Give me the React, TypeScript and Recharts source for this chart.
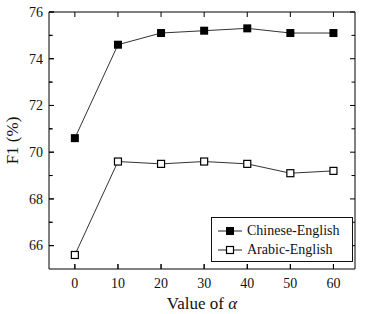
import React from 'react';
import { LineChart, Line, XAxis, YAxis, ReferenceArea, ReferenceLine } from 'recharts';

const alphas = [0, 10, 20, 30, 40, 50, 60];
const chineseEnglish = [70.6, 74.6, 75.1, 75.2, 75.3, 75.1, 75.1];
const arabicEnglish = [65.6, 69.6, 69.5, 69.6, 69.5, 69.1, 69.2];
const xTicks = [0, 10, 20, 30, 40, 50, 60];
const yTicks = [66, 67, 68, 69, 70, 71, 72, 73, 74, 75, 76];
const yLabels = [66, 68, 70, 72, 74, 76];
const seriesNames = ['Chinese-English', 'Arabic-English'];
const xDomain = [-6, 65];
const yDomain = [65, 76];

const data = alphas.map((a, i) => ({ alpha: a, ce: chineseEnglish[i], ae: arabicEnglish[i] }));

const FONT = "'Liberation Serif', 'Times New Roman', Times, serif";
const INK = '#000';

const W = 367;
const H = 314;
const M = { top: 12, right: 12, bottom: 0, left: 0 };
const Y_AXIS_W = 49;
const X_AXIS_H = 45;
const plotW = W - M.left - M.right - Y_AXIS_W;
const plotH = H - M.top - M.bottom - X_AXIS_H;
const MAJOR = 5;
const MINOR = 3.5;
const TICK_W = 1;
// tick lengths in data units (so the library scales draw them)
const xLen = (px: number) => (px * (xDomain[1] - xDomain[0])) / plotW;
const yLen = (px: number) => (px * (yDomain[1] - yDomain[0])) / plotH;
const isMajorY = (v: number) => yLabels.includes(v);

const LeftTick = (props: any) => {
  const { x, y, payload } = props;
  const v = payload.value;
  return (
    <g>
      <path d={`M${x},${y}h${isMajorY(v) ? MAJOR : MINOR}`} stroke={INK} strokeWidth={TICK_W} fill="none" />
      {isMajorY(v) && (
        <text x={x - 6} y={y} dy={4.8} textAnchor="end" fontFamily={FONT} fontSize={14} fill="#111">
          {v}
        </text>
      )}
    </g>
  );
};

const RightTick = (props: any) => {
  const { x, y, payload } = props;
  return <path d={`M${x},${y}h-${isMajorY(payload.value) ? MAJOR : MINOR}`} stroke={INK} strokeWidth={TICK_W} fill="none" />;
};

const BottomTick = (props: any) => {
  const { x, y, payload } = props;
  return (
    <g>
      <path d={`M${x},${y}v-${MAJOR}`} stroke={INK} strokeWidth={TICK_W} fill="none" />
      <text x={x} y={y + 18.5} textAnchor="middle" fontFamily={FONT} fontSize={14} fill="#111">
        {payload.value}
      </text>
    </g>
  );
};

const TopTick = (props: any) => {
  const { x, y } = props;
  return <path d={`M${x},${y}v${MAJOR}`} stroke={INK} strokeWidth={TICK_W} fill="none" />;
};

const XTitle = (props: any) => {
  const vb = props.viewBox || {};
  const cx = vb.x + vb.width / 2;
  return (
    <text x={cx} y={vb.y + 40} textAnchor="middle" fontFamily={FONT} fontSize={17} fill="#111">
      Value of <tspan fontStyle="italic">α</tspan>
    </text>
  );
};

const YTitle = (props: any) => {
  const vb = props.viewBox || {};
  const cy = vb.y + vb.height / 2;
  const cx = 13;
  return (
    <text x={cx} y={cy} transform={`rotate(-90 ${cx} ${cy})`} dy={5} textAnchor="middle" fontFamily={FONT} fontSize={17} fill="#111">
      F1 (%)
    </text>
  );
};

const FilledSquare = (props: any) => {
  const { cx, cy } = props;
  return <rect x={cx - 4} y={cy - 4} width={8} height={8} fill="#000" />;
};

const OpenSquare = (props: any) => {
  const { cx, cy } = props;
  return <rect x={cx - 3.5} y={cy - 3.5} width={7} height={7} fill="#fff" stroke="#000" strokeWidth={1.2} />;
};

const LegendBox = () => (
  <div
    style={{
      position: 'absolute',
      left: 211,
      top: 217,
      border: '1px solid #111',
      background: '#fff',
      width: 142,
      height: 45,
      boxSizing: 'border-box',
      padding: '3px 0 0 4px',
      fontFamily: FONT,
      fontSize: 14,
      color: '#111',
      lineHeight: '19px',
    }}
  >
    {seriesNames.map((name, i) => (
      <div key={name} style={{ display: 'flex', alignItems: 'center', height: 19 }}>
        <svg width={28} height={12} style={{ marginRight: 3 }}>
          <path d="M2,6H26" stroke="#222" strokeWidth={1} />
          {i === 0 ? (
            <rect x={10} y={2} width={8} height={8} fill="#000" />
          ) : (
            <rect x={10.5} y={2.5} width={7} height={7} fill="#fff" stroke="#000" strokeWidth={1.2} />
          )}
        </svg>
        <span>{name}</span>
      </div>
    ))}
  </div>
);

export default function App() {
  return (
    <div style={{ position: 'absolute', left: 0, top: 0, width: W, height: H, background: '#fff', fontFamily: FONT }}>
      <LineChart width={W} height={H} data={data} margin={M}>
        <XAxis
          xAxisId="b"
          dataKey="alpha"
          type="number"
          domain={xDomain}
          ticks={xTicks}
          orientation="bottom"
          height={X_AXIS_H}
          tickSize={0}
          tickMargin={0}
          tickLine={false}
          axisLine={false}
          tick={BottomTick}
          interval={0}
          allowDataOverflow
          label={{ content: XTitle }}
        />
        <XAxis
          xAxisId="t"
          dataKey="alpha"
          type="number"
          domain={xDomain}
          ticks={xTicks}
          orientation="top"
          height={0}
          tickSize={0}
          tickMargin={0}
          tickLine={false}
          axisLine={false}
          tick={TopTick}
          interval={0}
          allowDataOverflow
        />
        <YAxis
          yAxisId="l"
          type="number"
          domain={yDomain}
          ticks={yTicks}
          orientation="left"
          width={Y_AXIS_W}
          tickSize={0}
          tickMargin={0}
          tickLine={false}
          axisLine={false}
          tick={LeftTick}
          interval={0}
          allowDataOverflow
          label={{ content: YTitle }}
        />
        <YAxis
          yAxisId="r"
          type="number"
          domain={yDomain}
          ticks={yTicks}
          orientation="right"
          width={0}
          tickSize={0}
          tickMargin={0}
          tickLine={false}
          axisLine={false}
          tick={RightTick}
          interval={0}
          allowDataOverflow
        />
        {xTicks.map((t) => (
          <ReferenceLine
            key={`xb${t}`}
            xAxisId="b"
            yAxisId="l"
            segment={[{ x: t, y: yDomain[0] }, { x: t, y: yDomain[0] + yLen(MAJOR) }]}
            stroke={INK}
            strokeWidth={TICK_W}
            ifOverflow="visible"
          />
        ))}
        {xTicks.map((t) => (
          <ReferenceLine
            key={`xt${t}`}
            xAxisId="b"
            yAxisId="l"
            segment={[{ x: t, y: yDomain[1] }, { x: t, y: yDomain[1] - yLen(MAJOR) }]}
            stroke={INK}
            strokeWidth={TICK_W}
            ifOverflow="visible"
          />
        ))}
        {yTicks.map((v) => (
          <ReferenceLine
            key={`yl${v}`}
            xAxisId="b"
            yAxisId="l"
            segment={[{ x: xDomain[0], y: v }, { x: xDomain[0] + xLen(isMajorY(v) ? MAJOR : MINOR), y: v }]}
            stroke={INK}
            strokeWidth={TICK_W}
            ifOverflow="visible"
          />
        ))}
        {yTicks.map((v) => (
          <ReferenceLine
            key={`yr${v}`}
            xAxisId="b"
            yAxisId="l"
            segment={[{ x: xDomain[1], y: v }, { x: xDomain[1] - xLen(isMajorY(v) ? MAJOR : MINOR), y: v }]}
            stroke={INK}
            strokeWidth={TICK_W}
            ifOverflow="visible"
          />
        ))}
        <ReferenceArea
          xAxisId="b"
          yAxisId="l"
          x1={xDomain[0]}
          x2={xDomain[1]}
          y1={yDomain[0]}
          y2={yDomain[1]}
          fill="none"
          fillOpacity={0}
          stroke={INK}
          strokeWidth={1}
          strokeOpacity={1}
          ifOverflow="visible"
        />
        <Line
          xAxisId="b"
          yAxisId="l"
          dataKey="ce"
          name={seriesNames[0]}
          stroke="#333"
          strokeWidth={1}
          dot={<FilledSquare />}
          isAnimationActive={false}
        />
        <Line
          xAxisId="b"
          yAxisId="l"
          dataKey="ae"
          name={seriesNames[1]}
          stroke="#333"
          strokeWidth={1}
          dot={<OpenSquare />}
          isAnimationActive={false}
        />
      </LineChart>
      <LegendBox />
    </div>
  );
}
